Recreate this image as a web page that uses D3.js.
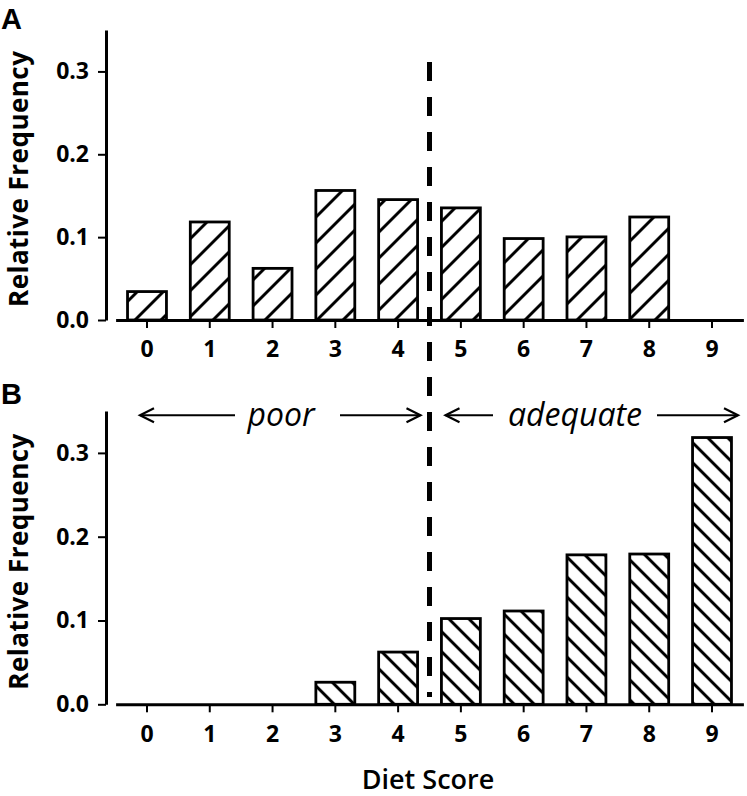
<!DOCTYPE html>
<html>
<head>
<meta charset="utf-8">
<script src="https://cdn.jsdelivr.net/npm/d3@7"></script>
<style>
  html, body { margin: 0; padding: 0; background: #fff; }
  svg { display: block; }
  text { font-family: "Open Sans", "DejaVu Sans", sans-serif; fill: #000; }
</style>
</head>
<body>
<svg id="chart" width="747" height="796"></svg>
<script>
// ---- data ----
const categories = ["0", "1", "2", "3", "4", "5", "6", "7", "8", "9"];
const panelAValues = [0.036, 0.120, 0.064, 0.158, 0.147, 0.137, 0.100, 0.102, 0.126, 0];
const panelBValues = [0, 0, 0, 0.028, 0.064, 0.104, 0.113, 0.180, 0.181, 0.320];
const yTicks = [0, 0.1, 0.2, 0.3];
const yTickLabels = ["0.0", "0.1", "0.2", "0.3"];
const panelLabels = ["A", "B"];
const yAxisTitle = "Relative Frequency";
const xAxisTitle = "Diet Score";
const groupLabels = ["poor", "adequate"];
const cutoffAfter = "4";

// ---- layout ----
const svg = d3.select("#chart");
const x = d3.scaleBand().domain(categories).range([115.6, 743.4]).paddingInner(0.38).paddingOuter(0.19);
const yA = d3.scaleLinear().domain([0, 0.35]).range([320, 30]);
const yB = d3.scaleLinear().domain([0, 0.35]).range([704.3, 411]);
const axisX = 106;

// hatch patterns (vertical line rotated; no tile seams)
const defs = svg.append("defs");
function hatch(id, spacing, angle) {
  const p = defs.append("pattern").attr("id", id).attr("patternUnits", "userSpaceOnUse")
    .attr("width", spacing).attr("height", spacing)
    .attr("patternTransform", `rotate(${angle})`);
  p.append("rect").attr("width", spacing).attr("height", spacing).attr("fill", "#fff");
  p.append("line").attr("x1", spacing / 2).attr("x2", spacing / 2).attr("y1", -1).attr("y2", spacing + 1)
    .attr("stroke", "#000").attr("stroke-width", 3);
}
hatch("hatchA", 26 / Math.SQRT2, 45);
hatch("hatchB", 20 / Math.SQRT2, -45);

function panel(values, y, patternId, label, labelBaseline) {
  const g = svg.append("g");
  const data = categories.map((c, i) => ({ c, v: values[i] })).filter(d => d.v > 0);
  g.selectAll("rect.bar").data(data).enter().append("rect")
    .attr("class", "bar")
    .attr("x", d => x(d.c))
    .attr("y", d => y(d.v) + 1.4)
    .attr("width", x.bandwidth())
    .attr("height", d => y(0) - y(d.v) - 1.4)
    .attr("fill", `url(#${patternId})`)
    .attr("stroke", "#000")
    .attr("stroke-width", 2.8);

  // y axis
  const ya = g.append("g").attr("transform", `translate(${axisX},0)`)
    .call(d3.axisLeft(y).tickValues(yTicks).tickFormat((d, i) => yTickLabels[i]).tickSize(8).tickSizeOuter(0).tickPadding(9));
  ya.select(".domain").attr("stroke-width", 3);
  ya.selectAll(".tick line").attr("stroke-width", 2);
  ya.selectAll(".tick text").style("font-size", "23px").style("font-weight", 700);

  // x axis
  const xa = g.append("g").attr("transform", `translate(0,${y(0)})`)
    .call(d3.axisBottom(x).tickSize(8).tickSizeOuter(0).tickPadding(13));
  xa.select(".domain").attr("stroke-width", 3);
  xa.selectAll(".tick line").attr("stroke-width", 2);
  xa.selectAll(".tick text").style("font-size", "23px").style("font-weight", 700);

  // y axis title
  const [r0, r1] = y.range();
  g.append("text")
    .attr("transform", `translate(28,${(r0 + r1) / 2 + 4}) rotate(-90)`)
    .attr("text-anchor", "middle")
    .attr("textLength", 256).attr("lengthAdjust", "spacing")
    .style("font-size", "26px").style("font-weight", 700)
    .text(yAxisTitle);

  // panel label
  svg.append("text").attr("x", 1).attr("y", labelBaseline)
    .style("font-family", "'Liberation Sans', Arial, sans-serif")
    .style("font-size", "29px").style("font-weight", 700)
    .text(label);
}

panel(panelAValues, yA, "hatchA", panelLabels[0], 29);
panel(panelBValues, yB, "hatchB", panelLabels[1], 404);

// cutoff dashed line
const step = x.step();
const cutX = x(cutoffAfter) + x.bandwidth() / 2 + step / 2;
svg.append("line")
  .attr("x1", cutX).attr("x2", cutX)
  .attr("y1", 62).attr("y2", 697)
  .attr("stroke", "#000").attr("stroke-width", 5)
  .attr("stroke-dasharray", "19,16");

// arrows
const arrowY = yB(0.345);
function arrowLine(x1, x2, headAt) {
  svg.append("line").attr("x1", x1).attr("x2", x2).attr("y1", arrowY).attr("y2", arrowY)
    .attr("stroke", "#000").attr("stroke-width", 2);
  if (headAt !== undefined) {
    const tip = headAt === "left" ? x1 : x2;
    const dir = headAt === "left" ? 1 : -1;
    svg.append("path")
      .attr("d", `M${tip + dir * 14},${arrowY - 7} L${tip},${arrowY} L${tip + dir * 14},${arrowY + 7}`)
      .attr("fill", "none").attr("stroke", "#000").attr("stroke-width", 2.2);
  }
}
const x0c = x(categories[0]) + x.bandwidth() / 2;
const x9c = x(categories[9]) + x.bandwidth() / 2;
// poor
arrowLine(x0c - 7, 235, "left");
arrowLine(340, cutX - 9, "right");
svg.append("text").attr("x", 281).attr("y", arrowY + 11).attr("text-anchor", "middle")
  .style("font-size", "32px").style("font-style", "italic").text(groupLabels[0]);
// adequate
arrowLine(cutX + 16, 493, "left");
arrowLine(657, x9c + 26, "right");
svg.append("text").attr("x", 575).attr("y", arrowY + 11).attr("text-anchor", "middle")
  .style("font-size", "32px").style("font-style", "italic").text(groupLabels[1]);

// x axis title
svg.append("text").attr("x", 428).attr("y", 789).attr("text-anchor", "middle")
  .style("font-size", "27px").style("font-weight", 600).text(xAxisTitle);
</script>
</body>
</html>
